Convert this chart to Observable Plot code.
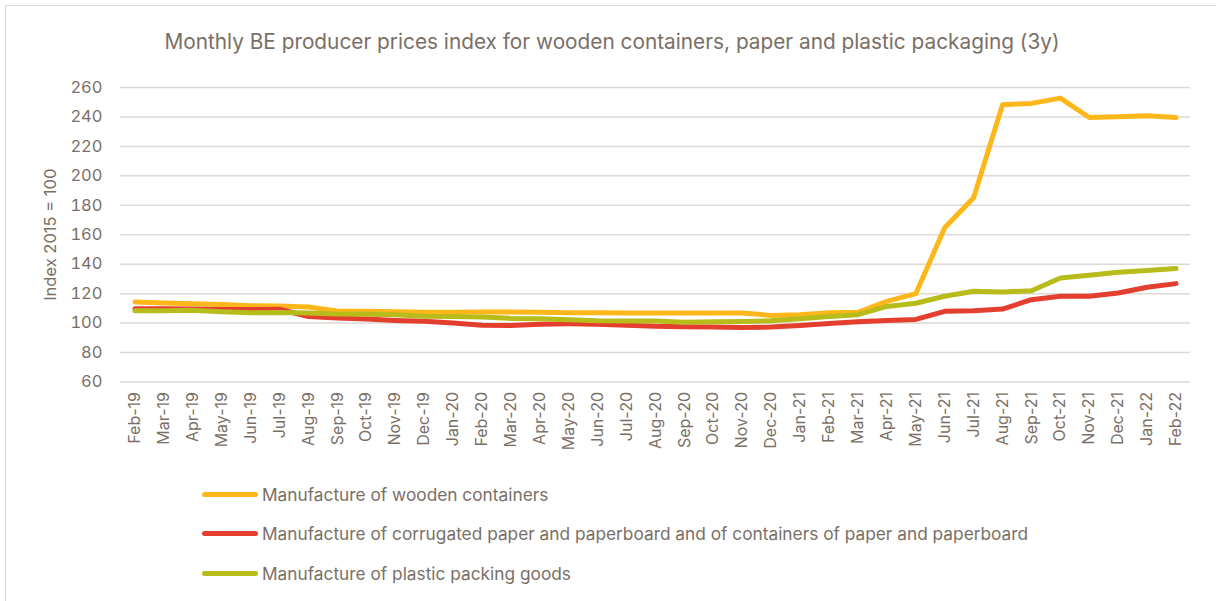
<!DOCTYPE html>
<html>
<head>
<meta charset="utf-8">
<script src="https://cdn.jsdelivr.net/npm/d3@7"></script>
<script src="https://cdn.jsdelivr.net/npm/@observablehq/plot@0.6"></script>
<style>
  body { margin: 0; background: #fff; font-family: Inter, Roboto, sans-serif; overflow: hidden; }
  #frame { position: absolute; left: 5px; top: 5px; width: 1240px; height: 640px; border: 1.5px solid #DCD7D2; box-sizing: border-box; }
  #title { position: absolute; left: 0; width: 1224px; top: 30px; line-height: 24px; text-align: center; font-size: 20.8px; color: #7A6F66; }
  #chart { position: absolute; left: 0; top: 65px; }
  #legend { position: absolute; left: 202px; top: 474.5px; }
  .row { display: flex; align-items: center; height: 39.5px; }
  .sw { width: 56px; height: 5px; border-radius: 3px; margin-right: 4px; }
  .lab { font-size: 17.3px; color: #7A6F66; white-space: nowrap; }
</style>
</head>
<body>
<div id="frame"></div>
<div id="title">Monthly BE producer prices index for wooden containers, paper and plastic packaging (3y)</div>
<div id="chart"></div>
<div id="legend"></div>
<script>
const months = ["Feb-19","Mar-19","Apr-19","May-19","Jun-19","Jul-19","Aug-19","Sep-19","Oct-19","Nov-19","Dec-19",
  "Jan-20","Feb-20","Mar-20","Apr-20","May-20","Jun-20","Jul-20","Aug-20","Sep-20","Oct-20","Nov-20","Dec-20",
  "Jan-21","Feb-21","Mar-21","Apr-21","May-21","Jun-21","Jul-21","Aug-21","Sep-21","Oct-21","Nov-21","Dec-21",
  "Jan-22","Feb-22"];

const wooden = [114.3,113.6,113.2,112.7,111.8,111.6,110.9,108.2,108.0,107.7,107.3,
  107.4,107.6,107.5,107.4,107.0,107.0,106.8,106.8,106.8,106.8,106.8,105.2,
  105.7,107.0,107.3,114.8,120.0,164.7,185.1,248.3,249.2,252.8,239.6,240.1,
  240.8,239.6];

const corrugated = [109.8,109.8,109.6,109.3,109.3,109.4,104.5,103.5,102.8,101.8,101.2,
  100.0,98.5,98.4,99.3,99.5,99.3,98.6,97.8,97.5,97.3,97.0,97.3,
  98.4,99.8,100.9,101.8,102.5,108.0,108.4,109.5,115.9,118.2,118.2,120.4,
  124.3,126.8];

const plastic = [108.4,108.4,108.8,107.7,107.0,107.2,106.8,106.1,106.0,105.6,104.7,
  104.5,104.1,103.2,102.9,102.3,101.6,101.4,101.4,100.5,100.9,101.1,101.6,
  103.0,104.5,105.7,111.3,113.5,118.2,121.6,121.1,122.0,130.6,132.5,134.5,
  135.7,137.0];

const seriesNames = [
  "Manufacture of wooden containers",
  "Manufacture of corrugated paper and paperboard and of containers of paper and paperboard",
  "Manufacture of plastic packing goods"
];
const seriesColors = ["#FDB71A", "#E43E2F", "#B8BC1A"];
const yTicks = [60,80,100,120,140,160,180,200,220,240,260];
const yLabel = "Index 2015 = 100";

const seriesValues = [wooden, corrugated, plastic];
const rows = (vals) => months.map((m, i) => ({month: m, value: vals[i]}));

const textColor = "#7A6F66";

const chart = Plot.plot({
  width: 1216,
  height: 400,
  marginTop: 22,
  marginBottom: 83.5,
  marginLeft: 120,
  marginRight: 26,
  style: {fontFamily: "Inter, Roboto, sans-serif", color: textColor, background: "transparent", overflow: "visible"},
  x: {type: "point", domain: months, padding: 0.5},
  y: {domain: [60, 260]},
  marks: [
    Plot.gridY(yTicks, {stroke: "#DDD8D4", strokeOpacity: 1, strokeWidth: 1.5}),
    Plot.axisY(yTicks, {tickSize: 0, tickPadding: 18, fontSize: 16.5, label: null, fill: textColor}),
    Plot.axisX(months, {tickSize: 0, tickPadding: 10, tickRotate: -90, fontSize: 16, label: null, fill: textColor}),
    ...seriesValues.map((vals, k) => Plot.line(rows(vals), {
      x: "month", y: "value", stroke: seriesColors[k], strokeWidth: 5,
      strokeLinecap: "round", strokeLinejoin: "round"
    })),
    Plot.text([yLabel], {frameAnchor: "left", dx: -70, rotate: -90, textAnchor: "middle", fontSize: 16.5, fill: textColor, text: d => d})
  ]
});
document.getElementById("chart").appendChild(chart);

const legend = document.getElementById("legend");
seriesNames.forEach((name, k) => {
  const row = document.createElement("div");
  row.className = "row";
  const sw = document.createElement("div");
  sw.className = "sw";
  sw.style.background = seriesColors[k];
  const lab = document.createElement("div");
  lab.className = "lab";
  lab.textContent = name;
  row.appendChild(sw);
  row.appendChild(lab);
  legend.appendChild(row);
});
</script>
</body>
</html>
